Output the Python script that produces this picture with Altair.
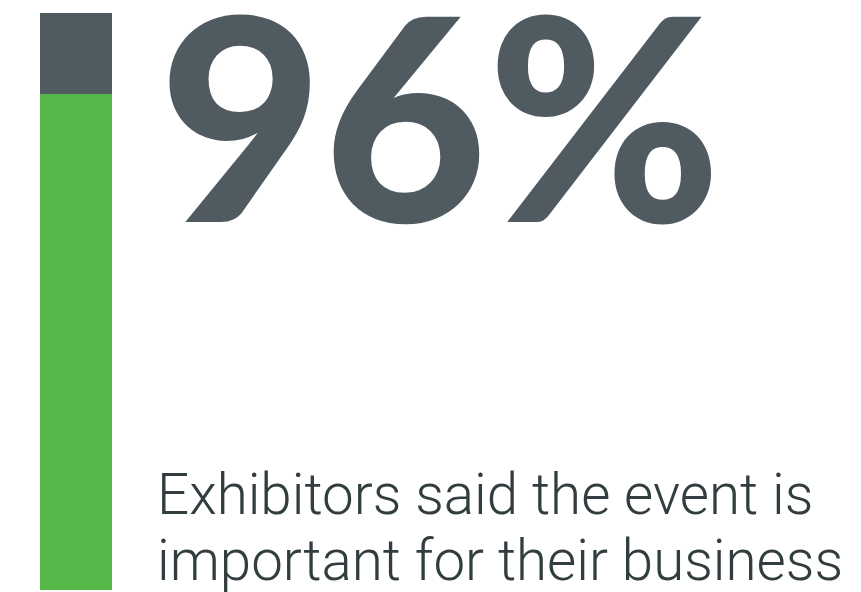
import altair as alt
import pandas as pd

# Data
segments = ["Important", "Other"]
shares = [96, 4]
headline_value = 96
caption_lines = ["Exhibitors said the event is", "important for their business"]

colors = ["#54b748", "#4f5a61"]

starts, ends, acc = [], [], 0
for v in shares:
    starts.append(acc)
    acc += v
    ends.append(acc)
bar_df = pd.DataFrame({"segment": segments, "start": starts, "end": ends})

W, H = 845, 584

bar = alt.Chart(bar_df).mark_bar(clip=False).encode(
    x=alt.value(32),
    x2=alt.value(104),
    y=alt.Y("start:Q", scale=alt.Scale(domain=[71.5, 100], range=[582, 5], clamp=True), axis=None),
    y2="end:Q",
    color=alt.Color("segment:N", scale=alt.Scale(domain=segments, range=colors), legend=None),
)

head_df = pd.DataFrame({"label": [f"{headline_value}%"]})
headline = alt.Chart(head_df).mark_text(
    align="left", baseline="alphabetic", font="Lato", fontWeight=900,
    fontSize=283, color="#4f5a61"
).encode(x=alt.value(151), y=alt.value(214), text="label:N")

cap_df = pd.DataFrame({"line": caption_lines, "idx": [0, 1]})
caption = alt.Chart(cap_df).mark_text(
    align="left", baseline="alphabetic", font="Roboto", fontWeight=300,
    fontSize=56.5, color="#323d40"
).encode(
    x=alt.value(149),
    y=alt.Y("idx:Q", scale=alt.Scale(domain=[0, 1], range=[506, 572]), axis=None),
    text="line:N",
)

chart = alt.layer(bar, headline, caption).properties(
    width=W, height=H, padding=0, autosize=alt.AutoSizeParams(type="none")
).resolve_scale(y="independent").configure_view(stroke=None)

chart.save("out.html", embed_options={"renderer": "svg", "actions": False})
